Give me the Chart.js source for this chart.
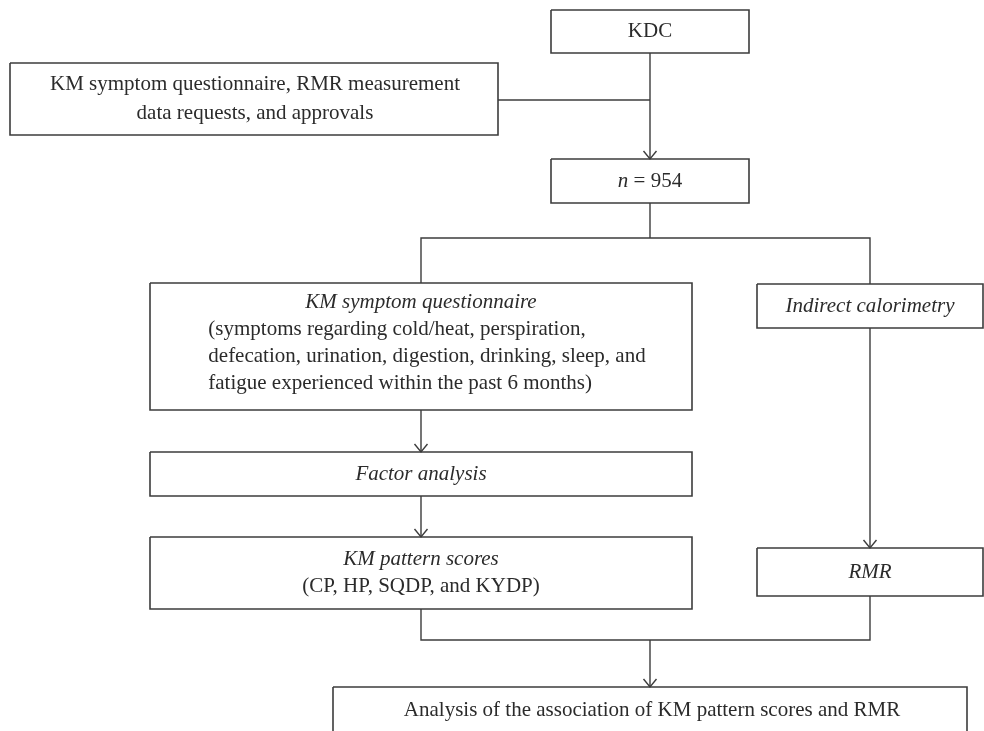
<!DOCTYPE html>
<html><head><meta charset="utf-8">
<script src="https://cdn.jsdelivr.net/npm/chart.js@4.4.1/dist/chart.umd.min.js"></script>
<style>html,body{margin:0;padding:0;background:#fff;}canvas{display:block;}</style>
</head><body>
<canvas id="c" width="984" height="731"></canvas>
<script>
// ---- flowchart content (text) ----
const nodeIds = ['kdc','req','n','kmq','ic','fa','kmp','rmr','an'];
// each line: array of [text, italic]
const nodeText = [
  [[['KDC',false]]],
  [[['KM symptom questionnaire, RMR measurement',false]],[['data requests, and approvals',false]]],
  [[['n',true],[' = 954',false]]],
  [[['KM symptom questionnaire',true]],
   [['(symptoms regarding cold/heat, perspiration,',false]],
   [['defecation, urination, digestion, drinking, sleep, and',false]],
   [['fatigue experienced within the past 6 months)',false]]],
  [[['Indirect calorimetry',true]]],
  [[['Factor analysis',true]]],
  [[['KM pattern scores',true]],[['(CP, HP, SQDP, and KYDP)',false]]],
  [[['RMR',true]]],
  [[['Analysis of the association of KM pattern scores and RMR',false]]]
];
// edges between nodes (from -> to)
const edgeFrom = ['kdc','req','n','n','kmq','fa','ic','kmp','rmr'];
const edgeTo   = ['n','n','kmq','ic','fa','kmp','rmr','an','an'];

// ---- layout (data units on a 984 x 731 canvas-like scale) ----
const layout = {
  kdc:{x0:551,x1:749,y0:10,y1:53, lines:[31], mode:'center', cx:650},
  req:{x0:10,x1:498,y0:63,y1:135, lines:[84,113], mode:'center', cx:255},
  n:  {x0:551,x1:749,y0:159,y1:203, lines:[181], mode:'center', cx:650},
  kmq:{x0:150,x1:692,y0:283,y1:410, lines:[302,329,356,383], mode:'firstCenterRestBlock', cx:421, blockCx:427},
  ic: {x0:757,x1:983,y0:284,y1:328, lines:[306], mode:'center', cx:870},
  fa: {x0:150,x1:692,y0:452,y1:496, lines:[474], mode:'center', cx:421},
  kmp:{x0:150,x1:692,y0:537,y1:609, lines:[559,586], mode:'center', cx:421},
  rmr:{x0:757,x1:983,y0:548,y1:596, lines:[572], mode:'center', cx:870},
  an: {x0:333,x1:967,y0:687,y1:745, lines:[710], mode:'center', cx:652}
};
const connectorPaths = [
  {pts:[[650,53],[650,159]], arrow:true},
  {pts:[[498,100],[650,100]], arrow:false},
  {pts:[[650,203],[650,238]], arrow:false},
  {pts:[[421,283],[421,238],[870,238],[870,284]], arrow:false},
  {pts:[[421,410],[421,452]], arrow:true},
  {pts:[[421,496],[421,537]], arrow:true},
  {pts:[[870,328],[870,548]], arrow:true},
  {pts:[[421,609],[421,640],[870,640],[870,596]], arrow:false},
  {pts:[[650,640],[650,687]], arrow:true}
];
const LINE = '#3c3c3c';
const TEXT = '#2b2b2b';
const FONT_PX = 21;
const FAMILY = '"Liberation Serif","Times New Roman",serif';

const datasets = [];
nodeIds.forEach(id => {
  const b = layout[id];
  datasets.push({data:[{x:b.x0,y:b.y0},{x:b.x1,y:b.y0},{x:b.x1,y:b.y1},{x:b.x0,y:b.y1},{x:b.x0,y:b.y0}],
    showLine:true,pointRadius:0,borderColor:LINE,borderWidth:1.6,tension:0,fill:false});
});
connectorPaths.forEach(c => {
  datasets.push({data:c.pts.map(p=>({x:p[0],y:p[1]})),showLine:true,pointRadius:0,borderColor:LINE,borderWidth:1.4,tension:0,fill:false});
  if (c.arrow) {
    const e = c.pts[c.pts.length-1];
    datasets.push({data:[{x:e[0]-6.5,y:e[1]-8},{x:e[0],y:e[1]},{x:e[0]+6.5,y:e[1]-8}],
      showLine:true,pointRadius:0,borderColor:LINE,borderWidth:1.4,tension:0,fill:false});
  }
});

function fontFor(it){ return (it?'italic ':'') + FONT_PX + 'px ' + FAMILY; }
function lineWidth(ctx, segs){
  let w=0; segs.forEach(s=>{ctx.font=fontFor(s[1]); w+=ctx.measureText(s[0]).width;}); return w;
}
function drawSegs(ctx, segs, x, y){
  segs.forEach(s=>{ctx.font=fontFor(s[1]); ctx.fillText(s[0],x,y); x+=ctx.measureText(s[0]).width;});
}
const textPlugin = {
  id:'flowText',
  afterDatasetsDraw(chart){
    const ctx = chart.ctx, xs = chart.scales.x, ys = chart.scales.y;
    ctx.save();
    ctx.fillStyle = TEXT; ctx.textBaseline='middle'; ctx.textAlign='left';
    nodeIds.forEach((id,i)=>{
      const b = layout[id]; const lines = nodeText[i];
      let blockLeft = null;
      if (b.mode==='firstCenterRestBlock'){
        let mw=0; for(let k=1;k<lines.length;k++) mw=Math.max(mw,lineWidth(ctx,lines[k]));
        blockLeft = xs.getPixelForValue(b.blockCx) - mw/2;
      }
      lines.forEach((segs,k)=>{
        const y = ys.getPixelForValue(b.lines[k]);
        const w = lineWidth(ctx,segs);
        let x;
        if (blockLeft!==null && k>0) x = blockLeft;
        else x = xs.getPixelForValue(b.cx) - w/2;
        drawSegs(ctx,segs,x,y);
      });
    });
    ctx.restore();
  }
};

new Chart(document.getElementById('c'), {
  type:'scatter',
  data:{datasets},
  options:{
    responsive:false, animation:false, devicePixelRatio:1,
    layout:{padding:0},
    scales:{
      x:{type:'linear',min:0,max:984,display:false},
      y:{type:'linear',min:0,max:731,reverse:true,display:false}
    },
    plugins:{legend:{display:false},tooltip:{enabled:false}},
    elements:{line:{borderCapStyle:'butt',borderJoinStyle:'miter'}}
  },
  plugins:[textPlugin]
});
</script>
</body></html>
